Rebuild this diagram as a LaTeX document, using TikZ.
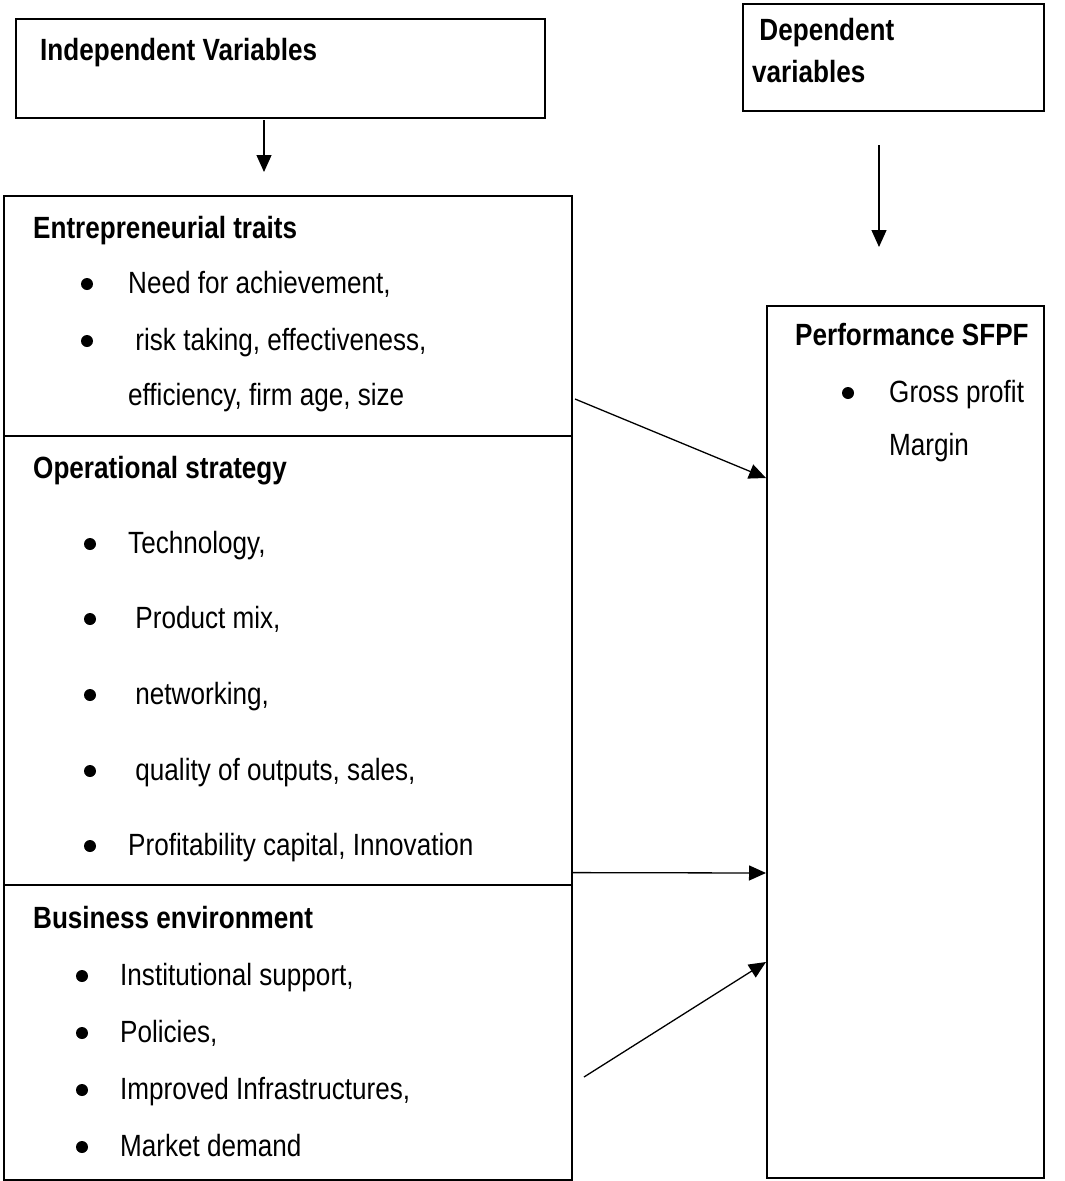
\documentclass[tikz,border=0pt]{standalone}
\usepackage{fontspec}
\setmainfont[FakeStretch=0.85]{Liberation Sans}
\usetikzlibrary{arrows.meta, positioning, calc}

\begin{document}
\begin{tikzpicture}[x=1pt, y=-1pt]
\tikzset{
>={Triangle[length=17pt, width=15pt]},
  frame/.style={
    rectangle,
    draw=black, line width=1.6pt,
    inner sep=0pt,
    anchor=north west},
  head/.style={anchor=base west, inner sep=0pt,
    font=\fontsize{30.7}{36}\selectfont\bfseries},
  item/.style={anchor=base west, inner sep=0pt,
    font=\fontsize{30.7}{36}\selectfont},
  dot/.style={circle, fill=black, inner sep=0pt, minimum size=12pt},
  line/.style={draw, line width=1.3pt, ->},
}
\useasboundingbox (0,0) rectangle (1065,1181);

% boxes
\node[frame, minimum width=529pt, minimum height=99pt] (indep) at (15,18) {};
\node[frame, minimum width=301pt, minimum height=107pt] (dep) at (742,3) {};
\node[frame, minimum width=568pt, minimum height=240pt] (traits) at (3,195) {};
\node[frame, minimum width=568pt, minimum height=449pt] (strategy) at (3,435) {};
\node[frame, minimum width=568pt, minimum height=295pt] (environment) at (3,884) {};
\node[frame, minimum width=277pt, minimum height=872pt] (perf) at (766,305) {};

% titles
\node[head] (indeptitle) at (40,60) {Independent Variables};
\node[head] (deptitle) at (752,40) {\ Dependent};
\node[head] (deptitle2) at (752,82) {variables};

% entrepreneurial traits
\node[head] (traitstitle) at (33,238) {Entrepreneurial traits};
\node[dot] (t1dot) at (87,284) {};
\node[item] (t1) at (128,293) {Need for achievement,};
\node[dot] (t2dot) at (87,341) {};
\node[item] (t2) at (128,350) {\ risk taking, effectiveness,};
\node[item] (t3) at (128,405) {efficiency, firm age, size};

% operational strategy
\node[head] (strategytitle) at (33,478) {Operational strategy};
\node[dot] (s1dot) at (90,544) {};
\node[item] (s1) at (128,553) {Technology,};
\node[dot] (s2dot) at (90,619) {};
\node[item] (s2) at (128,628) {\ Product mix,};
\node[dot] (s3dot) at (90,695) {};
\node[item] (s3) at (128,704) {\ networking,};
\node[dot] (s4dot) at (90,771) {};
\node[item] (s4) at (128,780) {\ quality of outputs, sales,};
\node[dot] (s5dot) at (90,846) {};
\node[item] (s5) at (128,855) {Profitability capital, Innovation};

% business environment
\node[head] (envtitle) at (33,928) {Business environment};
\node[dot] (e1dot) at (82,976) {};
\node[item] (e1) at (120,985) {Institutional support,};
\node[dot] (e2dot) at (82,1033) {};
\node[item] (e2) at (120,1042) {Policies,};
\node[dot] (e3dot) at (82,1090) {};
\node[item] (e3) at (120,1099) {Improved Infrastructures,};
\node[dot] (e4dot) at (82,1147) {};
\node[item] (e4) at (120,1156) {Market demand};

% performance
\node[head] (perftitle) at (795,345) {Performance SFPF};
\node[dot] (p1dot) at (848,393) {};
\node[item] (p1) at (889,402) {Gross profit};
\node[item] (p2) at (889,455) {Margin};

% arrows
\coordinate (indepout) at (264,120);
\coordinate (traitsin) at (264,172);
\coordinate (depout) at (879,145);
\coordinate (perfin) at (879,247);
\coordinate (traitsout) at (575,399);
\coordinate (envout) at (584,1077);

\draw[line] (indepout) -- (traitsin);
\draw[line] (depout) -- (perfin);
\draw[line] (traitsout) -- ($(perf.north west)+(0,173)$);
\draw[line] ($(strategy.south east)+(0,-13)$) -- ($(perf.north west)+(0,568)$);
\draw[line] (envout) -- ($(perf.north west)+(0,657)$);

\end{tikzpicture}
\end{document}
